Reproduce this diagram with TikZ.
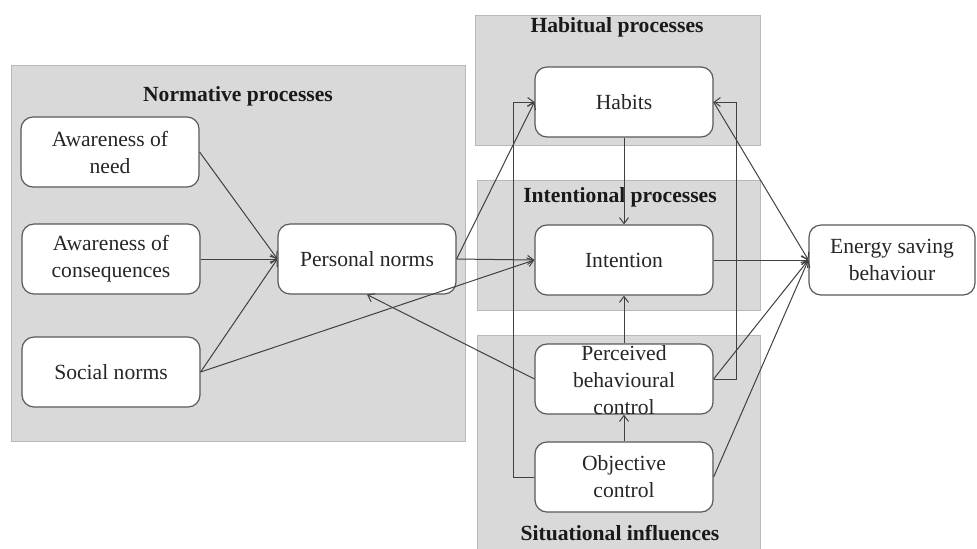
\documentclass[tikz,border=0pt]{standalone}
\usepackage{fontspec}
\setmainfont{Liberation Serif}
\usetikzlibrary{arrows.meta}

\begin{document}
\begin{tikzpicture}[x=0.5pt,y=-0.5pt,
  font=\fontsize{10.8pt}{13.5pt}\selectfont,
  group/.style={fill=black!15,draw=black!28,line width=0.5pt},
  grouptitle/.style={text=black!90,font=\fontsize{10.8pt}{13.5pt}\selectfont\bfseries},
  factor/.style={draw=black!65,fill=white,text=black!85,rounded corners=6pt,line width=0.6pt,
    minimum width=89pt,minimum height=35pt,inner sep=0pt,align=center},
  link/.style={draw=black!75,line width=0.5pt,-{Straight Barb[length=3pt,width=4.5pt]}}]
\useasboundingbox (0,0) rectangle (977,548);

\draw[group] (11,65) rectangle (465,441);
\draw[group] (475,15) rectangle (760,145);
\draw[group] (477,180) rectangle (760,310);
\draw[group] (477,335) rectangle (760,560);
\node[grouptitle] (normt) at (238,96) {Normative processes};
\node[grouptitle] (habt) at (617,27) {Habitual processes};
\node[grouptitle] (intt) at (620,197) {Intentional processes};
\node[grouptitle] (sitt) at (620,533) {Situational influences};

\node[factor] (need) at (110,152) {Awareness of\\need};
\node[factor] (cons) at (111,259) {Awareness of\\consequences};
\node[factor] (social) at (111,372) {Social norms};
\node[factor] (pn) at (367,259) {Personal norms};
\node[factor] (habits) at (624,102) {Habits};
\node[factor] (intent) at (624,260) {Intention};
\node[factor] (pbc) at (624,379) {\smash{\raisebox{-3.5pt}{\parbox{89pt}{\centering Perceived\\behavioural\\control}}}};
\node[factor] (objc) at (624,477) {Objective\\control};
\node[factor,minimum width=83pt] (esb) at (892,260) {Energy saving\\behaviour};

\draw[link] (need.east) -- (pn.west);
\draw[link] (cons.east) -- (pn.west);
\draw[link] (social.east) -- (pn.west);
\draw[link] (social.east) -- (intent.west);
\draw[link] (pn.east) -- (habits.west);
\draw[link] (pn.east) -- (intent.west);
\draw[link] (pbc.west) -- (pn.south);
\draw[link] (habits.south) -- (intent.north);
\draw[link] (pbc.north) -- (intent.south);
\draw[link] (objc.north) -- (pbc.south);
% feedback loops into habits
\draw[link] (objc.west) -| (513,102) -- (habits.west);
\draw[link] (pbc.east) -| (736,102) -- (habits.east);
\draw[link] (intent.east) -- (esb.west);
\draw[link] (habits.east) -- (esb.west);
\draw[link] (pbc.east) -- (esb.west);
\draw[link] (objc.east) -- (esb.west);

\end{tikzpicture}
\end{document}
